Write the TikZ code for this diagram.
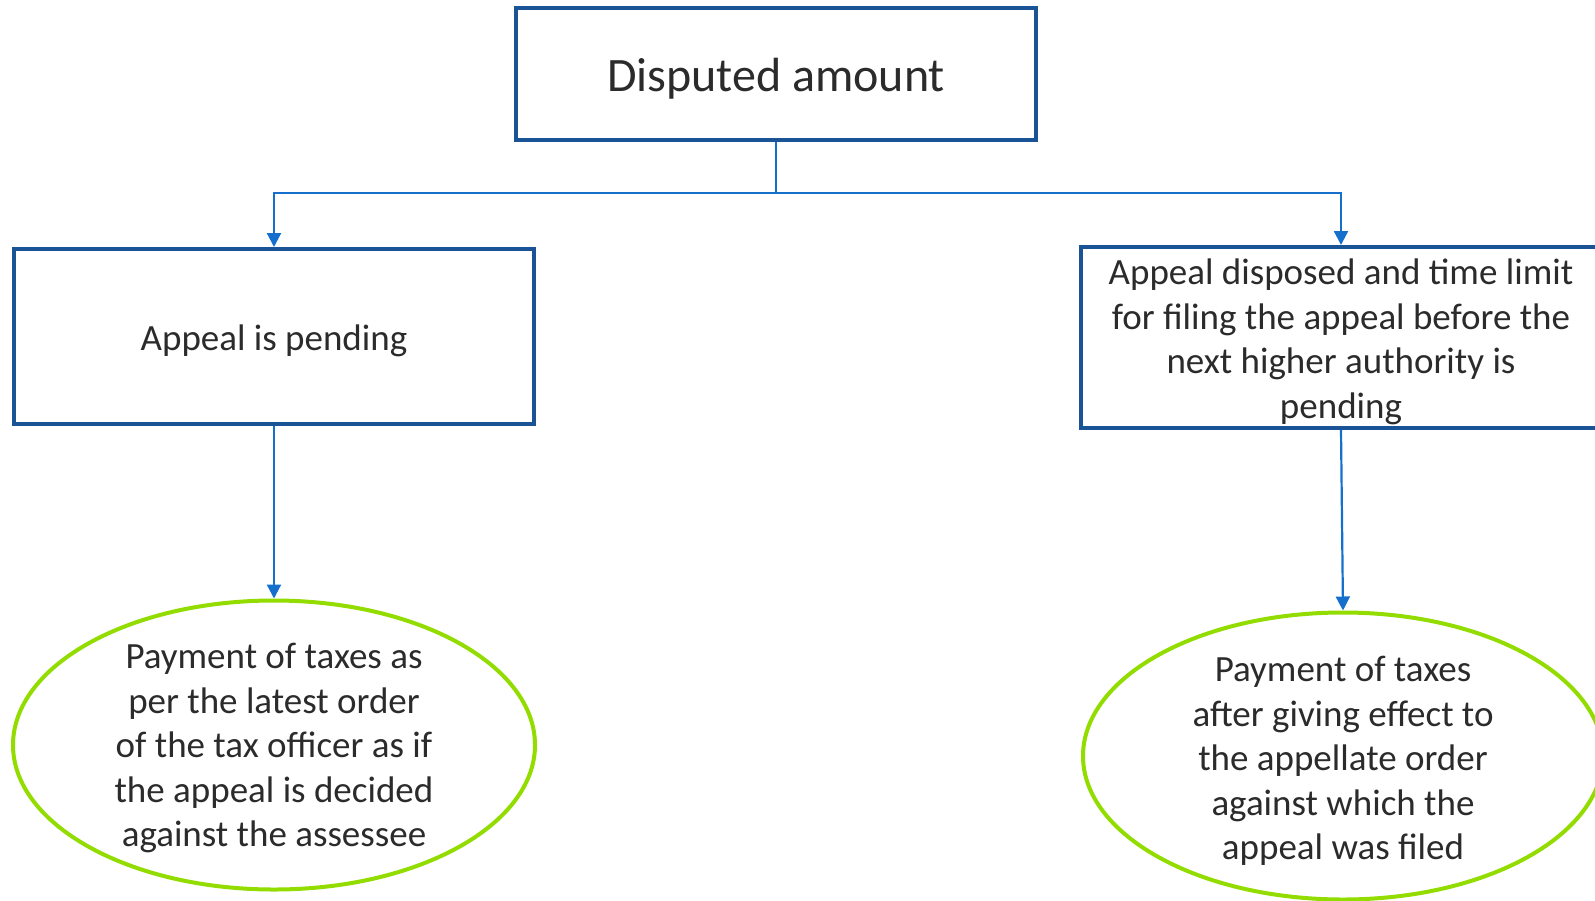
\documentclass[tikz,border=0pt]{standalone}
\usepackage{fontspec}
\setmainfont{Carlito}
\usetikzlibrary{shapes.geometric,arrows.meta}
\definecolor{boxblue}{HTML}{1A5496}
\definecolor{linkblue}{HTML}{1470CC}
\definecolor{ovalgreen}{HTML}{92DC00}
\definecolor{textgray}{HTML}{2B2B2B}
\tikzset{
  rbox/.style={draw=boxblue, line width=4pt, rectangle, inner sep=0pt},
  boxtext/.style={text=textgray, align=center, inner sep=0pt},
  oval/.style={draw=ovalgreen, line width=4pt, ellipse, inner sep=0pt},
  conn/.style={draw=linkblue, line width=2.2pt},
  connarrow/.style={conn, -{Triangle[width=14pt,length=14pt]}},
  bodyfont/.style={font=\fontsize{37}{44.5}\selectfont},
}
\begin{document}
\begin{tikzpicture}[x=1pt,y=-1pt]
\useasboundingbox (0,0) rectangle (1595,900);
\clip (0,0) rectangle (1595,900);
\node[rbox, minimum width=520pt, minimum height=132pt] (top) at (776,74) {};
\node[boxtext, font=\fontsize{48}{57}\selectfont] (ttop) at ([yshift=-4.5pt]top.center) {Disputed amount};
\node[rbox, minimum width=520pt, minimum height=175pt] (left) at (274,336.5) {};
\node[boxtext, bodyfont] (tleft) at ([yshift=-4.5pt]left.center) {Appeal is pending};
\node[rbox, minimum width=520pt, minimum height=181pt] (right) at (1341,337.5) {};
\node[boxtext, bodyfont] (tright) at ([yshift=-4.5pt]right.center) {Appeal disposed and time limit\\for filing the appeal before the\\next higher authority is\\pending};
\node[oval, minimum width=522pt, minimum height=289pt] (e1) at (274,745) {};
\node[boxtext, bodyfont] (t1) at ([yshift=-3pt]e1.center) {Payment of taxes as\\per the latest order\\of the tax officer as if\\the appeal is decided\\against the assessee};
\node[oval, minimum width=520pt, minimum height=287pt] (e2) at (1343,756) {};
\node[boxtext, bodyfont] (t2) at ([yshift=-5pt]e2.center) {Payment of taxes\\after giving effect to\\the appellate order\\against which the\\appeal was filed};
\coordinate (j) at (776,193);
\draw[conn] (top.south) -- (j);
\draw[connarrow] (j) -| (left.north);
\draw[connarrow] (j) -| (right.north);
\draw[connarrow] (left.south) -- (e1.north);
\draw[connarrow] (right.south) -- (e2.north);
\end{tikzpicture}
\end{document}
